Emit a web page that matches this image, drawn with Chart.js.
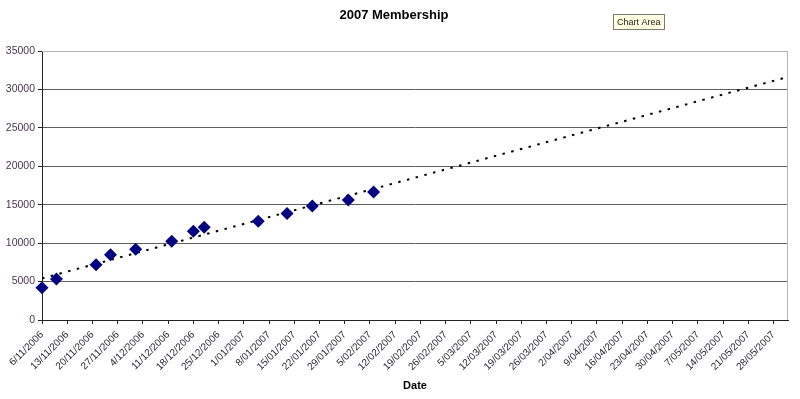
<!DOCTYPE html>
<html>
<head>
<meta charset="utf-8">
<title>2007 Membership</title>
<script src="https://cdn.jsdelivr.net/npm/chart.js@4"></script>
<style>
    html, body { margin: 0; padding: 0; background: #ffffff; }
    canvas { display: block; }
</style>
</head>
<body>
<canvas id="membershipChart" width="800" height="399"></canvas>
<script>
// Dati (data iscrizione -> numero soci)
const dates = ['2006-11-06', '2006-11-10', '2006-11-21', '2006-11-25', '2006-12-02', '2006-12-12',
    '2006-12-18', '2006-12-21', '2007-01-05', '2007-01-13', '2007-01-20', '2007-01-30', '2007-02-06'];
const members = [4200, 5340, 7200, 8500, 9200, 10250, 11550, 12070, 12850, 13850, 14840, 15620, 16670];

// Asse X: dal 6/11/2006 al 1/06/2007, un tick ogni settimana
const axisStart = '2006-11-06';
const axisEnd = '2007-06-01';
const xTickLabels = ['6/11/2006', '13/11/2006', '20/11/2006', '27/11/2006', '4/12/2006', '11/12/2006',
    '18/12/2006', '25/12/2006', '1/01/2007', '8/01/2007', '15/01/2007', '22/01/2007', '29/01/2007',
    '5/02/2007', '12/02/2007', '19/02/2007', '26/02/2007', '5/03/2007', '12/03/2007', '19/03/2007',
    '26/03/2007', '2/04/2007', '9/04/2007', '16/04/2007', '23/04/2007', '30/04/2007', '7/05/2007',
    '14/05/2007', '21/05/2007', '28/05/2007'];

// Asse Y
const yMin = 0;
const yMax = 35000;
const yStep = 5000;

const DAY = 86400000;
const toDays = d => (Date.parse(d) - Date.parse(axisStart)) / DAY;

// Linea di tendenza lineare (minimi quadrati, come in Excel)
function linearFit(xs, ys) {
    const n = xs.length;
    const mx = xs.reduce((a, b) => a + b, 0) / n;
    const my = ys.reduce((a, b) => a + b, 0) / n;
    let sxy = 0, sxx = 0;
    for (let i = 0; i < n; i++) {
        sxy += (xs[i] - mx) * (ys[i] - my);
        sxx += (xs[i] - mx) * (xs[i] - mx);
    }
    const slope = sxy / sxx;
    return x => my + slope * (x - mx);
}

// Bordo grigio chiaro del plot + etichetta "Chart Area"
const plotFrame = {
    id: 'plotFrame',
    beforeDatasetsDraw(chart) {
        const { ctx, chartArea: a } = chart;
        ctx.save();
        ctx.strokeStyle = '#b4b4b4';
        ctx.lineWidth = 1;
        ctx.beginPath();
        ctx.moveTo(a.left, a.top + 0.5);
        ctx.lineTo(a.right - 0.5, a.top + 0.5);
        ctx.lineTo(a.right - 0.5, a.bottom);
        ctx.stroke();
        ctx.restore();
    },
    afterDraw(chart) {
        const ctx = chart.ctx;
        ctx.save();
        ctx.fillStyle = '#ffffe1';
        ctx.fillRect(613.5, 14.5, 51, 15);
        ctx.strokeStyle = '#7a7a7a';
        ctx.lineWidth = 1;
        ctx.strokeRect(613.5, 14.5, 51, 15);
        ctx.fillStyle = '#222222';
        ctx.font = '9px "Liberation Sans", Arial, sans-serif';
        ctx.textBaseline = 'middle';
        ctx.textAlign = 'left';
        ctx.fillText('Chart Area', 617, 22.5);
        ctx.restore();
    }
};

document.addEventListener('DOMContentLoaded', () => {
    const xs = dates.map(toDays);
    const xEnd = toDays(axisEnd);
    const fit = linearFit(xs, members);

    const points = xs.map((x, i) => ({ x: x, y: members[i] }));
    const trend = [{ x: 0, y: fit(0) }, { x: xEnd, y: fit(xEnd) }];

    const ctx = document.getElementById('membershipChart').getContext('2d');
    new Chart(ctx, {
        type: 'scatter',
        data: {
            datasets: [
                {
                    label: 'Membership',
                    data: points,
                    pointStyle: 'rectRot',
                    pointRadius: 6.5,
                    backgroundColor: '#000080',
                    borderColor: '#000080',
                    borderWidth: 0,
                    clip: false
                },
                {
                    label: 'Linear (Membership)',
                    data: trend,
                    showLine: true,
                    pointRadius: 0,
                    borderColor: '#000000',
                    borderWidth: 2,
                    borderDash: [2.5, 6.5]
                }
            ]
        },
        options: {
            responsive: false,
            animation: false,
            layout: { padding: { left: 0, right: 12, top: 0, bottom: 0 } },
            plugins: {
                legend: { display: false },
                tooltip: { enabled: false },
                title: {
                    display: true,
                    text: '2007 Membership',
                    color: '#000000',
                    font: { family: '"Liberation Sans", Arial, sans-serif', size: 13, weight: 'bold' },
                    padding: { top: 8, bottom: 27.4 }
                }
            },
            scales: {
                x: {
                    type: 'linear',
                    min: 0,
                    max: xEnd,
                    border: { display: true, color: '#222222', width: 1 },
                    grid: { drawOnChartArea: false, drawTicks: true, tickLength: 4, tickColor: '#222222' },
                    ticks: {
                        stepSize: 7,
                        includeBounds: false,
                        autoSkip: false,
                        maxTicksLimit: 40,
                        minRotation: 45,
                        maxRotation: 45,
                        padding: 5,
                        color: '#2c2638',
                        font: { family: '"Liberation Sans", Arial, sans-serif', size: 10 },
                        callback: value => xTickLabels[Math.round(value / 7)] || ''
                    },
                    title: {
                        display: true,
                        text: 'Date',
                        color: '#000000',
                        font: { family: '"Liberation Sans", Arial, sans-serif', size: 11, weight: 'bold' },
                        padding: { top: 0, bottom: 6 }
                    },
                    afterFit: scale => { scale.height = 79; }
                },
                y: {
                    min: yMin,
                    max: yMax,
                    border: { display: true, color: '#222222', width: 1 },
                    grid: {
                        color: c => (c.tick && c.tick.value === yMax) ? '#b4b4b4' : '#5e5e5e',
                        tickColor: '#222222',
                        tickLength: 4
                    },
                    ticks: {
                        stepSize: yStep,
                        padding: 3,
                        color: '#4a3550',
                        font: { family: '"Liberation Sans", Arial, sans-serif', size: 10.5 },
                        callback: value => String(value)
                    },
                    afterFit: scale => { scale.width = 42; }
                }
            }
        },
        plugins: [plotFrame]
    });
});
</script>
</body>
</html>
